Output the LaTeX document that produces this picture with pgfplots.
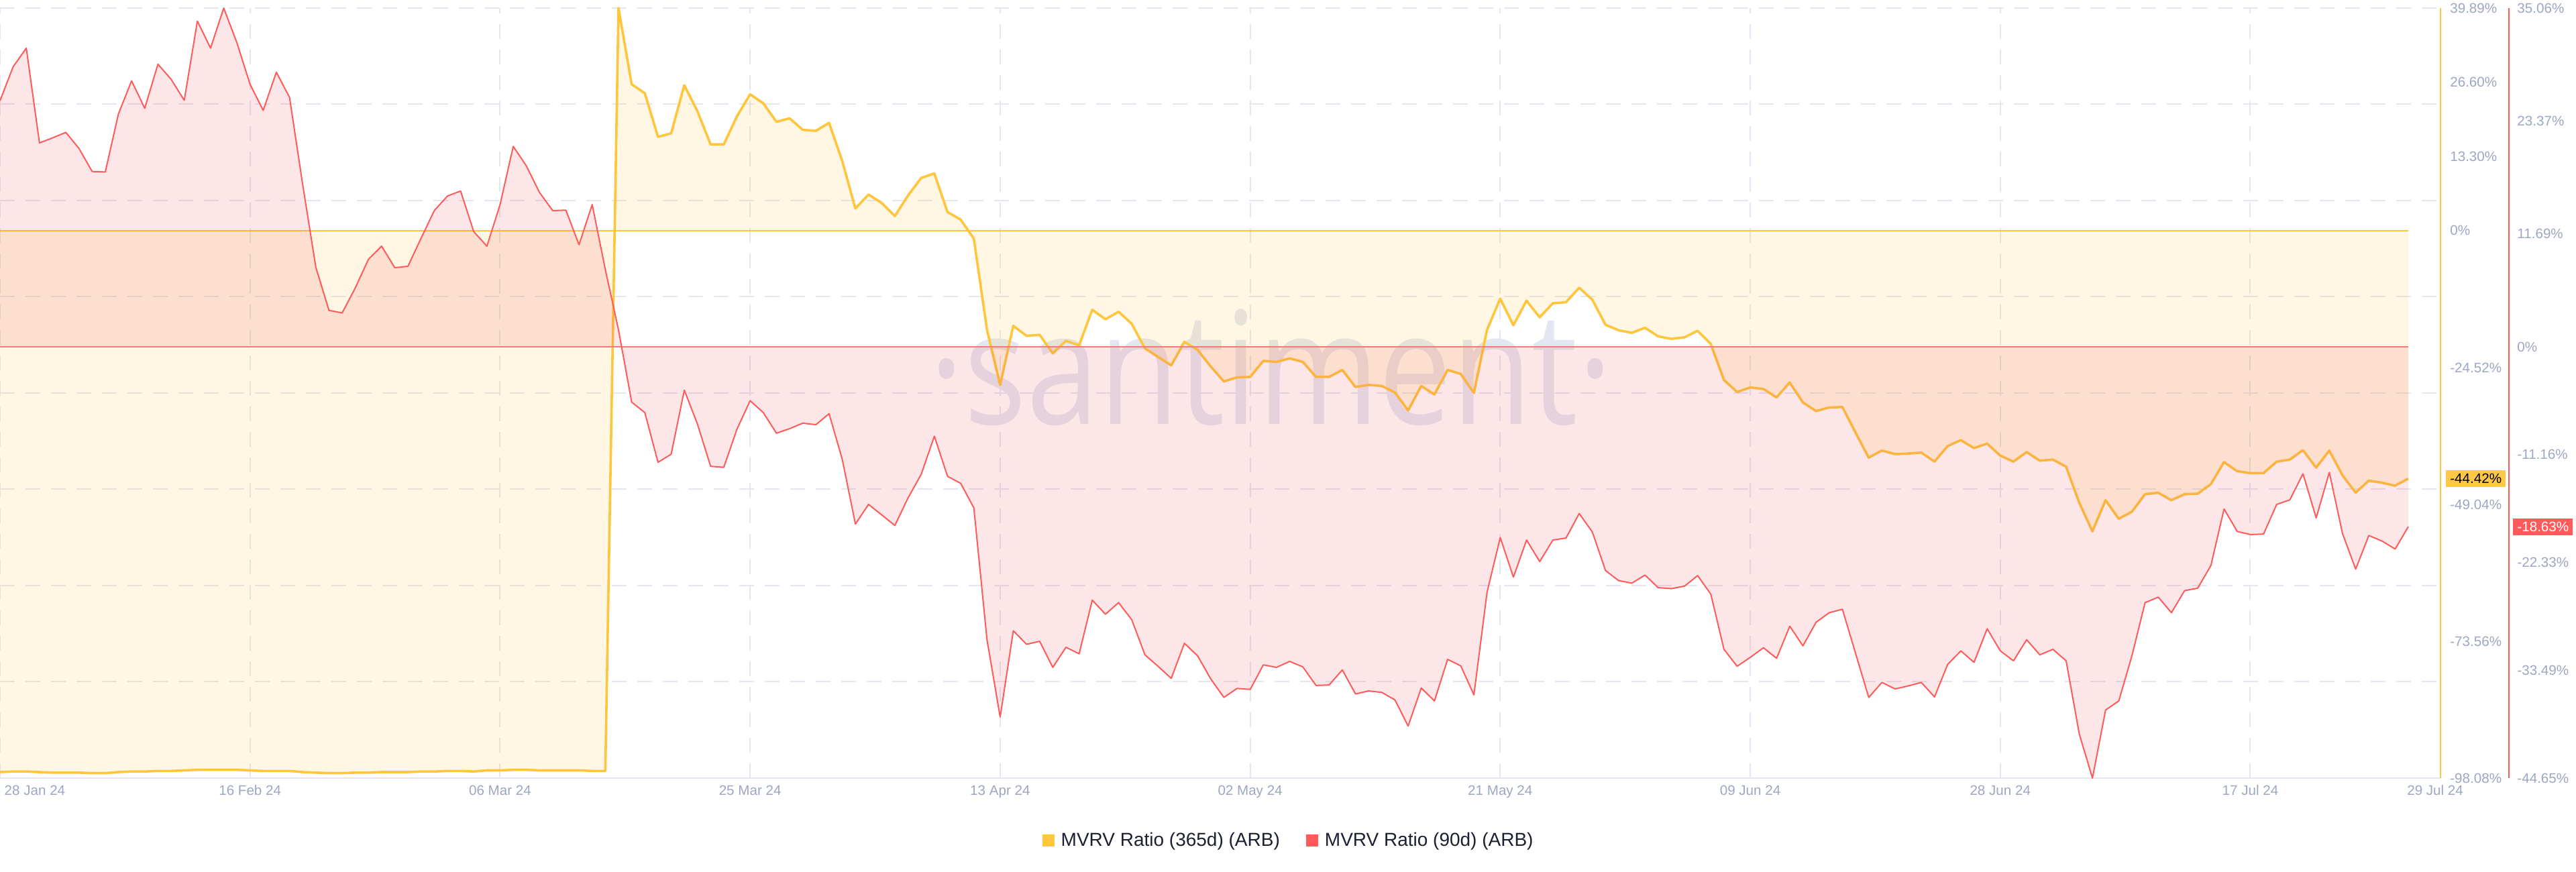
\documentclass[border=0pt]{standalone}
\usepackage{fontspec}
\setmainfont{Liberation Sans}
\newfontfamily\wmfont{Open Sans}
\usepackage{pgfplots}
\pgfplotsset{compat=1.18}
\usepackage{pgfplotstable}

\definecolor{yl}{HTML}{FFC53D}
\definecolor{rl}{HTML}{FF5B5B}
\definecolor{fy}{HTML}{FFC83C}
\definecolor{fr}{HTML}{F0505A}
\definecolor{gridc}{HTML}{E4E7F1}
\definecolor{axisb}{HTML}{E3E6F0}
\definecolor{tickc}{HTML}{9DA6C2}
\definecolor{legc}{HTML}{1C2030}
\definecolor{hly}{HTML}{FFC947}
\definecolor{wm}{HTML}{8291C3}
\definecolor{yzero}{HTML}{FFC53D}
\definecolor{rzero}{HTML}{F47A7A}

\pgfplotsset{sqlegend/.style={legend image code/.code={\fill[##1, draw=none] (0pt,-4.5pt) rectangle (9pt,4.5pt);}}}

\pgfplotstableread{
d y r
0 -97.0 25.46
1 -96.9 28.99
2 -96.9 30.91
3 -97.0 21.10
4 -97.1 21.62
5 -97.1 22.19
6 -97.1 20.53
7 -97.2 18.14
8 -97.2 18.09
9 -97.0 24.11
10 -96.9 27.53
11 -96.9 24.68
12 -96.8 29.25
13 -96.8 27.69
14 -96.7 25.51
15 -96.6 33.71
16 -96.6 30.91
17 -96.6 35.06
18 -96.6 31.48
19 -96.7 27.17
20 -96.8 24.47
21 -96.8 28.42
22 -96.8 25.82
23 -97.0 16.79
24 -97.1 8.23
25 -97.2 3.76
26 -97.2 3.50
27 -97.1 6.10
28 -97.1 9.06
29 -97.0 10.41
30 -97.0 8.18
31 -97.0 8.33
32 -96.9 11.24
33 -96.9 14.09
34 -96.8 15.60
35 -96.8 16.12
36 -96.9 11.91
37 -96.7 10.41
38 -96.7 14.72
39 -96.6 20.74
40 -96.6 18.71
41 -96.7 15.96
42 -96.7 14.09
43 -96.7 14.14
44 -96.7 10.56
45 -96.8 14.72
46 -96.8 7.97
47 39.89 1.74
48 26.24 -5.73
49 24.62 -6.82
50 16.81 -11.96
51 17.44 -11.13
52 26.06 -4.49
53 21.39 -8.02
54 15.46 -12.38
55 15.46 -12.48
56 20.49 -8.54
57 24.44 -5.58
58 22.83 -6.82
59 19.51 -8.95
60 20.13 -8.48
61 18.07 -7.91
62 17.89 -8.07
63 19.33 -6.93
64 12.50 -11.65
65 3.97 -18.35
66 6.48 -16.32
67 4.96 -17.41
68 2.62 -18.50
69 6.30 -15.65
70 9.45 -13.21
71 10.26 -9.26
72 3.34 -13.41
73 1.99 -14.14
74 -1.42 -16.68
75 -17.76 -30.33
76 -27.64 -38.33
77 -17.04 -29.40
78 -18.84 -30.80
79 -18.66 -30.49
80 -21.98 -33.19
81 -19.74 -31.11
82 -20.55 -31.79
83 -14.17 -26.23
84 -15.88 -27.69
85 -14.53 -26.49
86 -16.68 -28.26
87 -21.08 -31.89
88 -22.61 -33.08
89 -24.14 -34.33
90 -19.92 -30.70
91 -21.35 -31.99
92 -24.32 -34.38
93 -27.01 -36.30
94 -26.29 -35.37
95 -26.20 -35.47
96 -23.33 -32.93
97 -23.51 -33.19
98 -22.88 -32.57
99 -23.51 -33.14
100 -26.20 -35.06
101 -26.20 -35.01
102 -24.95 -33.45
103 -28.00 -35.94
104 -27.64 -35.63
105 -27.82 -35.78
106 -28.99 -36.56
107 -32.22 -39.26
108 -27.82 -35.32
109 -29.35 -36.67
110 -24.95 -32.36
111 -25.66 -33.03
112 -29.08 -36.04
113 -17.76 -25.40
114 -12.19 -19.75
115 -16.95 -23.85
116 -12.55 -20.01
117 -15.52 -22.24
118 -13.00 -20.01
119 -12.82 -19.80
120 -10.22 -17.26
121 -12.37 -19.18
122 -16.86 -23.17
123 -17.85 -24.21
124 -18.30 -24.47
125 -17.40 -23.64
126 -18.93 -24.94
127 -19.38 -25.04
128 -19.11 -24.78
129 -17.94 -23.69
130 -20.28 -25.61
131 -26.74 -31.32
132 -28.90 -33.08
133 -28.09 -32.15
134 -28.36 -31.16
135 -29.88 -32.25
136 -27.19 -28.93
137 -30.78 -30.96
138 -32.31 -28.52
139 -31.68 -27.53
140 -31.59 -27.17
141 -36.17 -31.74
142 -40.66 -36.30
143 -39.40 -34.75
144 -40.03 -35.42
145 -39.94 -35.11
146 -39.76 -34.75
147 -41.38 -36.25
148 -38.60 -32.88
149 -37.52 -31.48
150 -38.95 -32.67
151 -38.15 -29.19
152 -40.30 -31.48
153 -41.38 -32.51
154 -39.67 -30.33
155 -41.20 -31.89
156 -41.02 -31.32
157 -42.28 -32.51
158 -48.74 -40.09
159 -53.86 -44.65
160 -48.29 -37.60
161 -51.62 -36.67
162 -50.36 -31.99
163 -47.22 -26.49
164 -46.95 -25.92
165 -48.29 -27.53
166 -47.22 -25.25
167 -47.13 -24.99
168 -45.42 -22.65
169 -41.47 -16.79
170 -43.09 -19.12
171 -43.44 -19.44
172 -43.44 -19.39
173 -41.38 -16.32
174 -41.02 -15.85
175 -39.31 -13.15
176 -42.46 -17.72
177 -39.40 -13.00
178 -43.80 -19.33
179 -46.95 -23.02
180 -44.79 -19.54
181 -45.15 -20.11
182 -45.69 -20.94
183 -44.42 -18.63
}\mvrv

\begin{document}
\begin{tikzpicture}
\path[use as bounding box] (0pt,-70pt) rectangle (1920pt,580pt);

\node[anchor=base, text=wm, text opacity=0.22, inner sep=0pt] at (947.5pt,263.5pt)
  {\scalebox{0.83}[1]{\wmfont\fontsize{117}{117}\selectfont ·santiment·}};

\begin{axis}[
  at={(0pt,0pt)}, anchor=south west,
  scale only axis, width=1819pt, height=574pt,
  xmin=0, xmax=185.45, ymin=-98.08, ymax=39.89,
  axis x line*=bottom, axis y line*=right,
  x axis line style={draw=axisb, line width=1pt},
  y axis line style={draw=yl, line width=0.9pt},
  xtick={0,19,38,57,76,95,114,133,152,171},
  xticklabels={,16 Feb 24,06 Mar 24,25 Mar 24,13 Apr 24,02 May 24,21 May 24,09 Jun 24,28 Jun 24,17 Jul 24},
  extra x ticks={2.65,185.05},
  extra x tick labels={28 Jan 24,29 Jul 24},
  extra x tick style={grid=none},
  xmajorgrids,
  ytick={39.89,26.60,13.30,0,-24.52,-49.04,-73.56,-98.08},
  yticklabels={39.89\%,26.60\%,13.30\%,0\%,-24.52\%,-49.04\%,-73.56\%,-98.08\%},
  extra y ticks={39.89,22.64375,5.3975,-11.84875,-29.095,-46.34125,-63.5875,-80.83375},
  extra y tick labels={,,,,,,,,},
  extra y tick style={grid=major},
  grid style={draw=gridc, line width=1pt, dash pattern=on 11pt off 8pt},
  tick style={draw=none},
  major tick length=0pt,
  xticklabel style={anchor=base, yshift=-12.8pt, inner sep=0pt, font=\fontsize{10.3}{12}\selectfont, text=tickc},
  yticklabel style={anchor=west, xshift=7pt, inner sep=0pt, font=\fontsize{10.3}{12}\selectfont, text=tickc},
  clip=false,
]
\addplot[draw=none, fill=fy, fill opacity=0.14, forget plot] table[x=d,y=y]{\mvrv} \closedcycle;
\addplot[yzero, line width=0.8pt, forget plot] coordinates {(0,0) (183,0)};
\addplot[yl, line width=1.8pt, line join=round, forget plot] table[x=d,y=y]{\mvrv};
\node[fill=hly, text=black, anchor=west, inner xsep=3pt, inner ysep=0pt, minimum height=12.5pt,
      font=\fontsize{10.3}{12}\selectfont] at (axis cs:185.45,-44.42) [xshift=4pt] {-44.42\%};
\end{axis}

\begin{axis}[
  at={(0pt,0pt)}, anchor=south west,
  scale only axis, width=1870pt, height=574pt,
  xmin=0, xmax=190.65, ymin=-44.65, ymax=35.06,
  axis x line=none, axis y line*=right,
  y axis line style={draw=rl, line width=0.9pt},
  xtick=\empty,
  ytick={35.06,23.37,11.69,0,-11.16,-22.33,-33.49,-44.65},
  yticklabels={35.06\%,23.37\%,11.69\%,0\%,-11.16\%,-22.33\%,-33.49\%,-44.65\%},
  tick style={draw=none},
  major tick length=0pt,
  yticklabel style={anchor=west, xshift=6pt, inner sep=0pt, font=\fontsize{10.3}{12}\selectfont, text=tickc},
  clip=false,
  legend columns=2,
  legend cell align=left,
  legend style={at={(0.5134,-0.081)}, anchor=center, draw=none, fill=none,
    font=\fontsize{14}{16}\selectfont, text=legc, inner sep=0pt,
    nodes={inner sep=0.5pt},
    /tikz/every odd column/.append style={column sep=4.5pt},
    /tikz/every even column/.append style={column sep=19pt}},
]
\addlegendimage{sqlegend, fill=yl, draw=none}
\addlegendentry{MVRV Ratio (365d) (ARB)}
\addlegendimage{sqlegend, fill=rl, draw=none}
\addlegendentry{MVRV Ratio (90d) (ARB)}
\addplot[draw=none, fill=fr, fill opacity=0.14, forget plot] table[x=d,y=r]{\mvrv} \closedcycle;
\addplot[rzero, line width=1pt, forget plot] coordinates {(0,0) (183,0)};
\addplot[rl, line width=1pt, line join=round, forget plot] table[x=d,y=r]{\mvrv};
\node[fill=rl, text=white, anchor=west, inner xsep=3pt, inner ysep=0pt, minimum height=12.5pt,
      font=\fontsize{10.3}{12}\selectfont] at (axis cs:190.65,-18.63) [xshift=3pt] {-18.63\%};
\end{axis}
\end{tikzpicture}
\end{document}
